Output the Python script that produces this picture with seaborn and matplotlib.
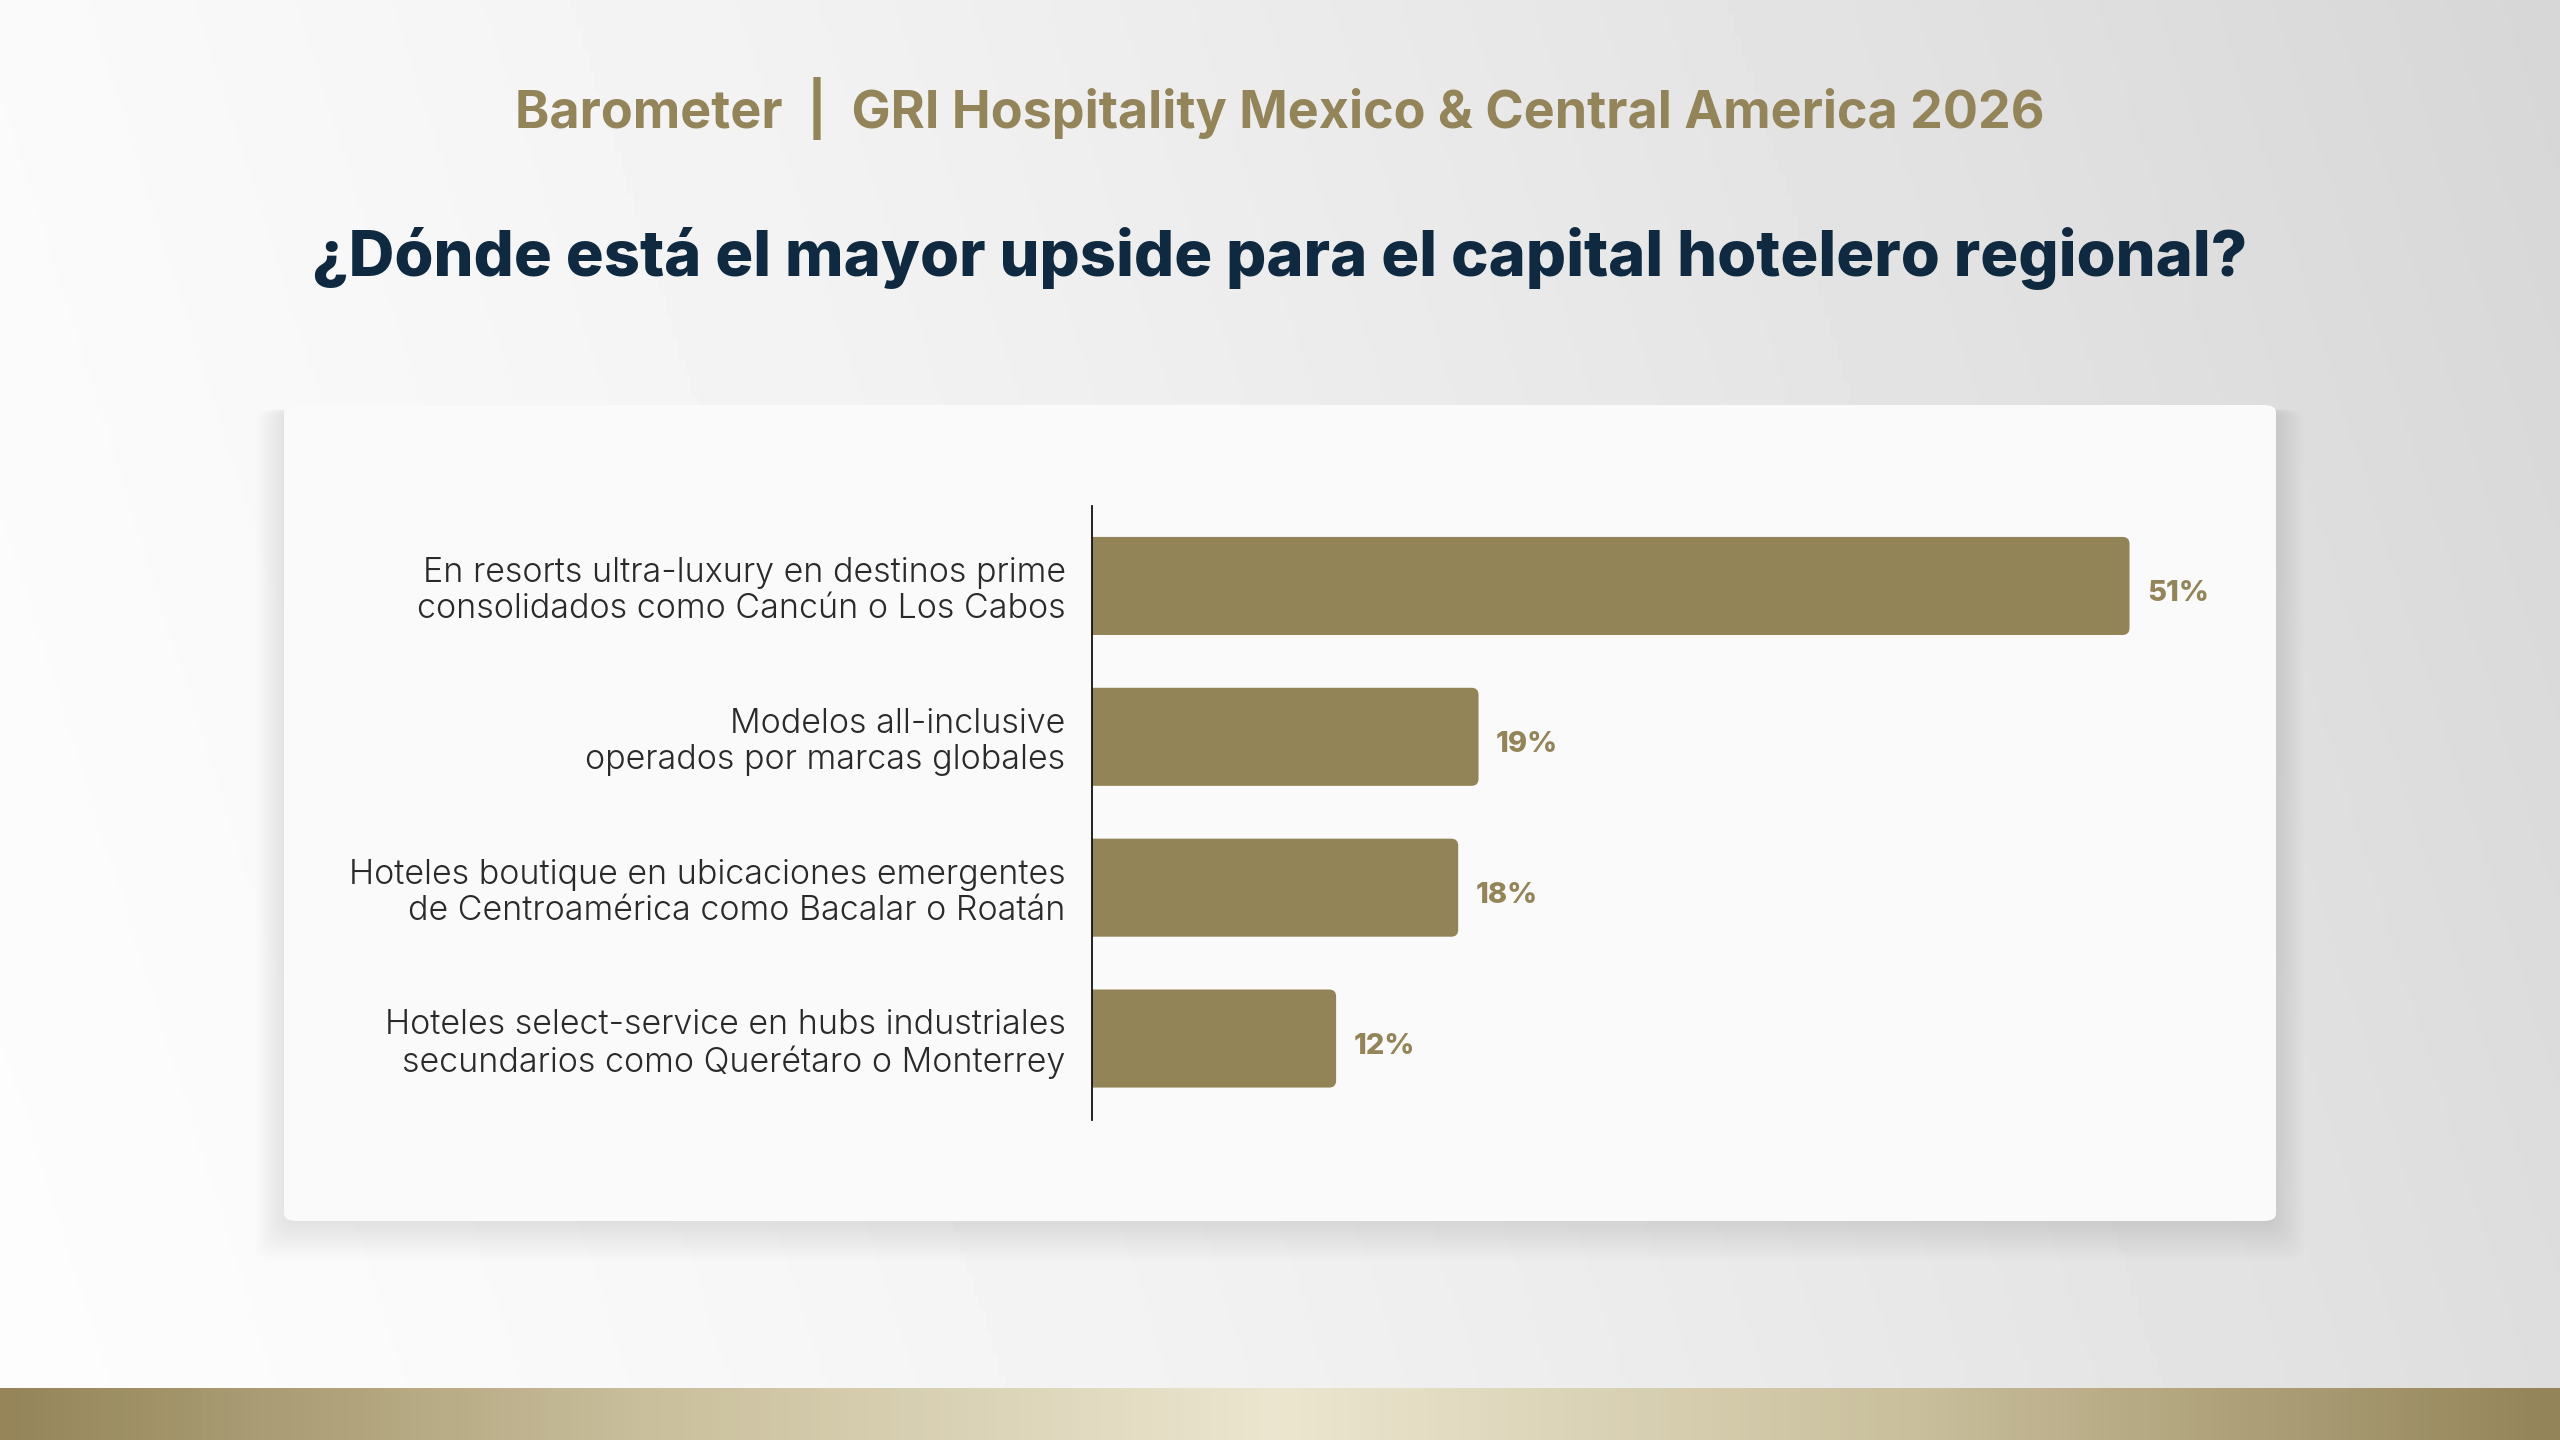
import numpy as np
import pandas as pd
import matplotlib
matplotlib.use("Agg")
import matplotlib.pyplot as plt
from matplotlib.patches import FancyBboxPatch
from matplotlib.colors import LinearSegmentedColormap
import seaborn as sns

# Data
categories = [
    "En resorts ultra-luxury en destinos prime\nconsolidados como Cancún o Los Cabos",
    "Modelos all-inclusive\noperados por marcas globales",
    "Hoteles boutique en ubicaciones emergentes\nde Centroamérica como Bacalar o Roatán",
    "Hoteles select-service en hubs industriales\nsecundarios como Querétaro o Monterrey",
]
values = [51, 19, 18, 12]
value_labels = ["51%", "19%", "18%", "12%"]

header = "Barometer  |  GRI Hospitality Mexico & Central America 2026"
question = "¿Dónde está el mayor upside para el capital hotelero regional?"

df = pd.DataFrame({"category": categories, "value": values})

# Colours
gold = "#938457"
navy = "#0f2a40"
text_grey = "#2a2a2a"

sns.set_theme(style="white")
plt.rcParams["font.family"] = ["Inter", "DejaVu Sans"]

fig = plt.figure(figsize=(25.6, 14.4), dpi=100)

# Background gradient (light left, grey right)
bg = fig.add_axes([0, 0, 1, 1], zorder=-10)
gx = np.linspace(0, 1, 400)
gy = np.linspace(0, 1, 200)
X, Y = np.meshgrid(gx, gy)
shade = 0.99 - 0.15 * np.clip(X * 0.85 + (1 - Y) * 0.15, 0, 1) ** 1.4
bg.imshow(shade, cmap="gray", vmin=0, vmax=1, aspect="auto",
          extent=[0, 1, 0, 1], origin="upper")

# Bottom band gradient
band_cmap = LinearSegmentedColormap.from_list(
    "band", ["#958559", "#c9bf9c", "#ece6d0", "#c9bf9c", "#948459"])
bg.imshow(np.linspace(0, 1, 600)[None, :], cmap=band_cmap, aspect="auto",
          extent=[0, 1, 0, 52 / 1440], zorder=2)
bg.set_xlim(0, 1)
bg.set_ylim(0, 1)
bg.axis("off")

# Card with soft shadow
cx0, cy0 = 284 / 2560, 1 - 1221 / 1440
cw, ch = (2276 - 284) / 2560, (1221 - 405) / 1440
for i in range(12):
    gxw = i * 0.0010
    gyh = i * 0.0022
    fig.patches.append(FancyBboxPatch(
        (cx0 - gxw, cy0 - gyh - 0.003), cw + 2 * gxw, ch + gyh,
        boxstyle="round,pad=0,rounding_size=0.008",
        transform=fig.transFigure, facecolor="black", edgecolor="none",
        alpha=0.008, zorder=-5))
fig.patches.append(FancyBboxPatch(
    (cx0, cy0), cw, ch, boxstyle="round,pad=0,rounding_size=0.005",
    transform=fig.transFigure, facecolor="#fafafa", edgecolor="none", zorder=-4))

# Titles
fig.text(0.5, 1 - 108 / 1440, header, ha="center", va="center",
         fontsize=37.5, fontweight=700, color="#948459")
fig.text(0.5, 1 - 258 / 1440, question, ha="center", va="center",
         fontsize=45.5, fontweight=800, color=navy)

# Bar chart
ax = fig.add_axes([1092 / 2560, 1 - 1120 / 1440,
                   (2276 - 1092) / 2560, (1120 - 506) / 1440])
ax.set_facecolor("none")
sns.barplot(data=df, x="value", y="category", orient="h", color=gold,
            width=0.65, saturation=1, ax=ax)
ax.set_xlim(0, 58.2)
ax.set_ylim(3.54, -0.53)

# Round the right-hand corners of the bars
fig.canvas.draw()
px_x = ax.transData.transform((1, 0))[0] - ax.transData.transform((0, 0))[0]
px_y = abs(ax.transData.transform((0, 1))[1] - ax.transData.transform((0, 0))[1])
radius = 7 / px_x
for p in list(ax.patches):
    x, y, w, h = p.get_x(), p.get_y(), p.get_width(), p.get_height()
    p.remove()
    rb = FancyBboxPatch((x - 2, y), w + 2, h,
                        boxstyle=f"round,pad=0,rounding_size={radius}",
                        mutation_aspect=px_x / px_y,
                        facecolor=gold, edgecolor="none", zorder=2)
    ax.add_patch(rb)
    rb.set_clip_path(ax.patch)

# Value labels
for i, (v, lab) in enumerate(zip(values, value_labels)):
    ax.text(v + 0.85, i + 0.05, lab, ha="left", va="center", fontsize=21,
            fontweight=800, color="#948459")

for s in ["top", "right", "bottom"]:
    ax.spines[s].set_visible(False)
ax.spines["left"].set_color("#111111")
ax.spines["left"].set_linewidth(1.3)
ax.spines["left"].set_zorder(5)
ax.set_xticks([])
ax.set_xlabel("")
ax.set_ylabel("")
ax.tick_params(axis="y", length=0, pad=19)
for t in ax.get_yticklabels():
    t.set_fontsize(24.5)
    t.set_fontweight(300)
    t.set_color(text_grey)
    t.set_linespacing(1.15)
    t.set_ha("right")

fig.savefig("out.png", dpi=100)
